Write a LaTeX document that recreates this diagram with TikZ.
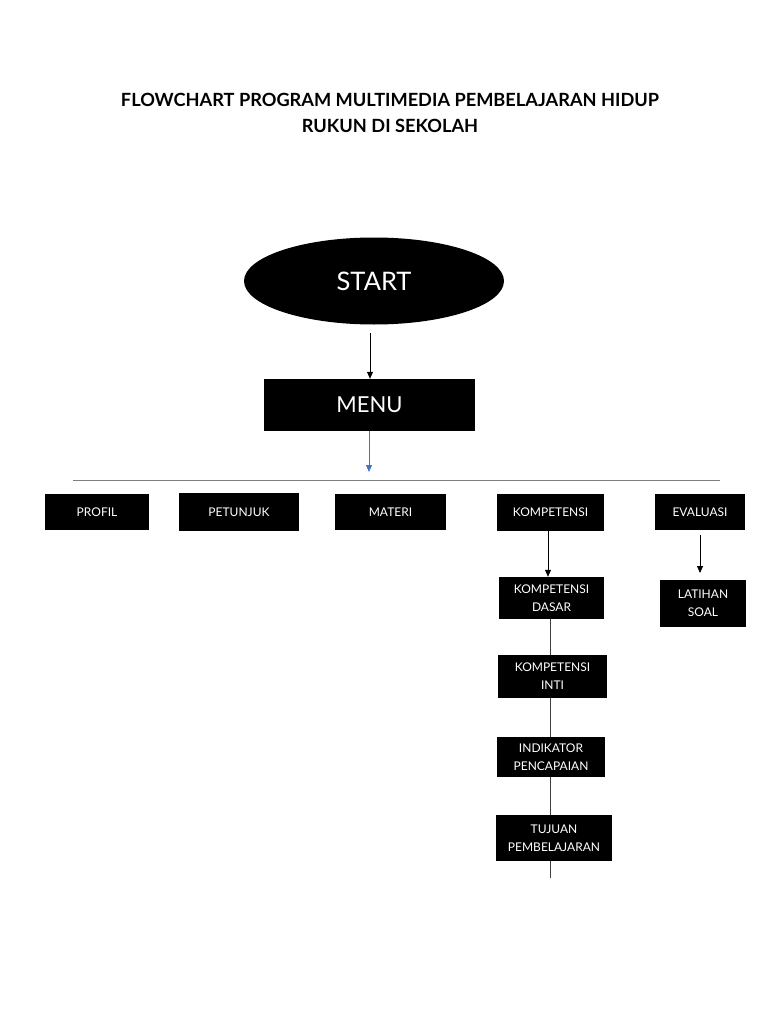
\documentclass[tikz,border=0pt]{standalone}
\usepackage{fontspec}
\setmainfont{Lato}
\usepackage{xcolor}
\usepackage{tikz}
\usetikzlibrary{arrows.meta,shapes.geometric}
\definecolor{menublue}{HTML}{4472C4}
\definecolor{barline}{HTML}{7F7F7F}

\begin{document}
\begin{tikzpicture}[
  x=1pt,y=-1pt,
  font=\fontsize{12}{18}\selectfont,
  box/.style={fill=black,text=white,align=center,inner sep=0pt},
  link/.style={black!75,line width=0.8pt},
  pointer/.style={-{Triangle[length=7pt,width=6pt]},line width=0.8pt}
]
\useasboundingbox (0,0) rectangle (768,1024);
\node[font=\bfseries\fontsize{18.2}{26}\selectfont,align=center] (title) at (390,113)
  {FLOWCHART PROGRAM MULTIMEDIA PEMBELAJARAN HIDUP\\RUKUN DI SEKOLAH};
\node[ellipse,fill=black,text=white,minimum width=260,minimum height=87,inner sep=0pt,
  font=\fontsize{25.5}{30}\selectfont] (start) at (374,281) {START};
\node[box,minimum width=211,minimum height=52,font=\fontsize{22}{26}\selectfont] (menu) at (369.5,405) {MENU};
\coordinate (barl) at (73,480);
\coordinate (barr) at (720,480);
\coordinate (menuend) at (369,472);
% second row
\node[box,minimum width=104,minimum height=36] (profil) at (97,512) {PROFIL};
\node[box,minimum width=120,minimum height=38] (petunjuk) at (239,512) {PETUNJUK};
\node[box,minimum width=111,minimum height=36] (materi) at (390.5,512) {MATERI};
\node[box,minimum width=107,minimum height=37] (kompetensi) at (550.5,512.5) {KOMPETENSI};
\node[box,minimum width=90,minimum height=36] (evaluasi) at (700,512) {EVALUASI};
% kompetensi chain
\node[box,minimum width=105,minimum height=42] (kd) at (551.5,598) {KOMPETENSI\\DASAR};
\node[box,minimum width=109,minimum height=43] (ki) at (552.5,676.5) {KOMPETENSI\\INTI};
\node[box,minimum width=108,minimum height=40] (ip) at (551,757) {INDIKATOR\\PENCAPAIAN};
\node[box,minimum width=116,minimum height=46] (tp) at (554,838) {TUJUAN\\PEMBELAJARAN};
\coordinate (tpend) at (550,878);
\node[box,minimum width=86,minimum height=47] (latihan) at (703,603.5) {LATIHAN\\SOAL};
\coordinate (startout) at (370,333);
\coordinate (evalout) at (700,535);
\coordinate (latihanin) at (700,573);

\draw[pointer] (startout) -- (menu.north -| startout);
\draw[pointer,menublue] (menu.south -| menuend) -- (menuend);
\draw[barline,line width=1pt] (barl) -- (barr);
\draw[pointer] (kompetensi.south -| 548,0) -- (kd.north -| 548,0);
\draw[pointer] (evalout) -- (latihanin);
\draw[link] (kd.south -| 550,0) -- (ki.north -| 550,0);
\draw[link] (ki.south -| 550,0) -- (ip.north -| 550,0);
\draw[link] (ip.south -| 550,0) -- (tp.north -| 550,0);
\draw[link] (tp.south -| tpend) -- (tpend);
\end{tikzpicture}
\end{document}
